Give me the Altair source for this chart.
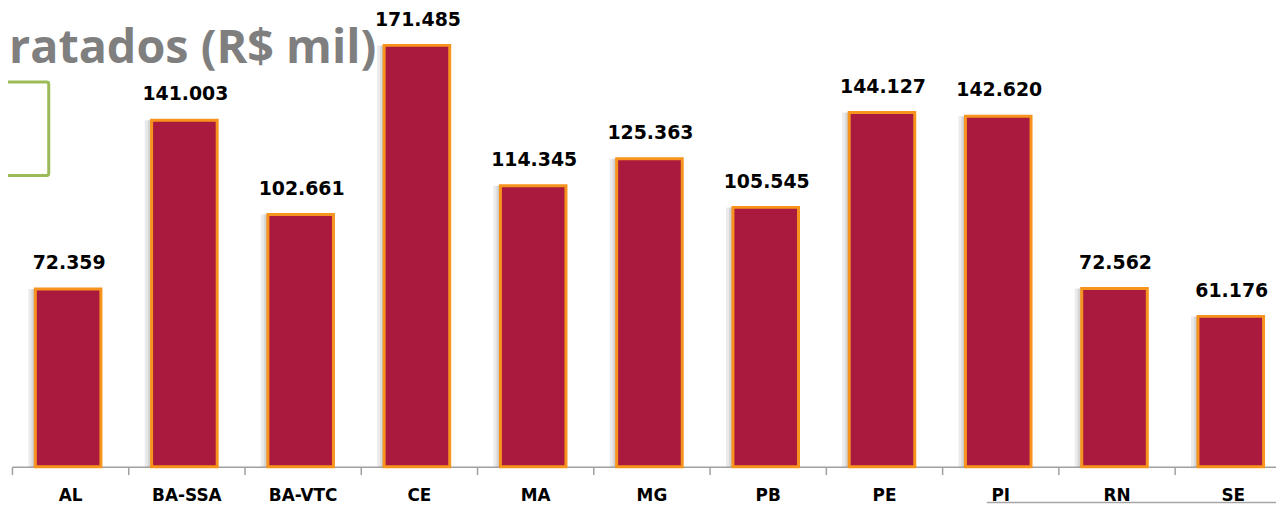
import altair as alt
import pandas as pd

# ---- data ----
categories = ["AL", "BA-SSA", "BA-VTC", "CE", "MA", "MG", "PB", "PE", "PI", "RN", "SE"]
values = [72359, 141003, 102661, 171485, 114345, 125363, 105545, 144127, 142620, 72562, 61176]
title_text = ["ratados (R$ mil)"]

labels = [f"{v:,}".replace(",", ".") for v in values]
df = pd.DataFrame({"cat": categories, "val": values, "lab": labels})

BAR_FILL = "#A91A3E"
BAR_STROKE = "#F7941D"
BAR_W = 66

x_enc = alt.X("cat:N", sort=categories,
              scale=alt.Scale(range=[0, 1287], paddingInner=0, paddingOuter=0),
              axis=alt.Axis(title=None, labelAngle=0, tickBand="extent",
                            domainColor="#A0A0A0", domainWidth=1.5,
                            tickColor="#A0A0A0", tickWidth=1.5, tickSize=8,
                            labelFont="DejaVu Sans", labelFontWeight="bold",
                            labelFontSize=17, labelColor="#000000",
                            labelPadding=13))
y_enc = alt.Y("val:Q", scale=alt.Scale(domain=[0, 180000], nice=False), axis=None)

base = alt.Chart(df)

shadow1 = base.mark_bar(color="#000000", opacity=0.08, size=BAR_W, xOffset=-9).encode(x=x_enc, y=y_enc)
shadow2 = base.mark_bar(color="#000000", opacity=0.08, size=BAR_W, xOffset=-6).encode(x=x_enc, y=y_enc)
shadow3 = base.mark_bar(color="#000000", opacity=0.08, size=BAR_W, xOffset=-4).encode(x=x_enc, y=y_enc)
bars = base.mark_bar(fill=BAR_FILL, stroke=BAR_STROKE, strokeWidth=3, size=BAR_W,
                     xOffset=-2).encode(x=x_enc, y=y_enc)
texts = base.mark_text(font="DejaVu Sans", fontWeight="bold", fontSize=19, color="#000000",
                       baseline="alphabetic", dy=-20, dx=-1).encode(x=x_enc, y=y_enc, text="lab:N")

title = alt.Chart(pd.DataFrame({"t": title_text})).mark_text(
    font="Open Sans", fontWeight="bold", fontSize=47, color="#7F7F7F",
    align="left", baseline="alphabetic"
).encode(x=alt.value(-3), y=alt.value(39), text="t:N")

green_box = alt.Chart(pd.DataFrame({"a": [0]})).mark_rect(
    filled=False, stroke="#9BBB59", strokeWidth=3, cornerRadius=2
).encode(x=alt.value(-40), x2=alt.value(37), y=alt.value(58), y2=alt.value(152))

gray_line = alt.Chart(pd.DataFrame({"a": [0]})).mark_rule(
    color="#A6A6A6", strokeWidth=1.5
).encode(x=alt.value(981), x2=alt.value(1290), y=alt.value(481))

chart = alt.layer(green_box, title, shadow1, shadow2, shadow3, bars, texts, gray_line).properties(
    width=1264, height=445,
    autosize=alt.AutoSizeParams(type="none"),
    padding={"left": 4, "top": 15, "right": 8, "bottom": 37},
).configure_view(stroke=None).configure_axis(grid=False)

chart.save("out.html", embed_options={"renderer": "svg", "actions": False})
